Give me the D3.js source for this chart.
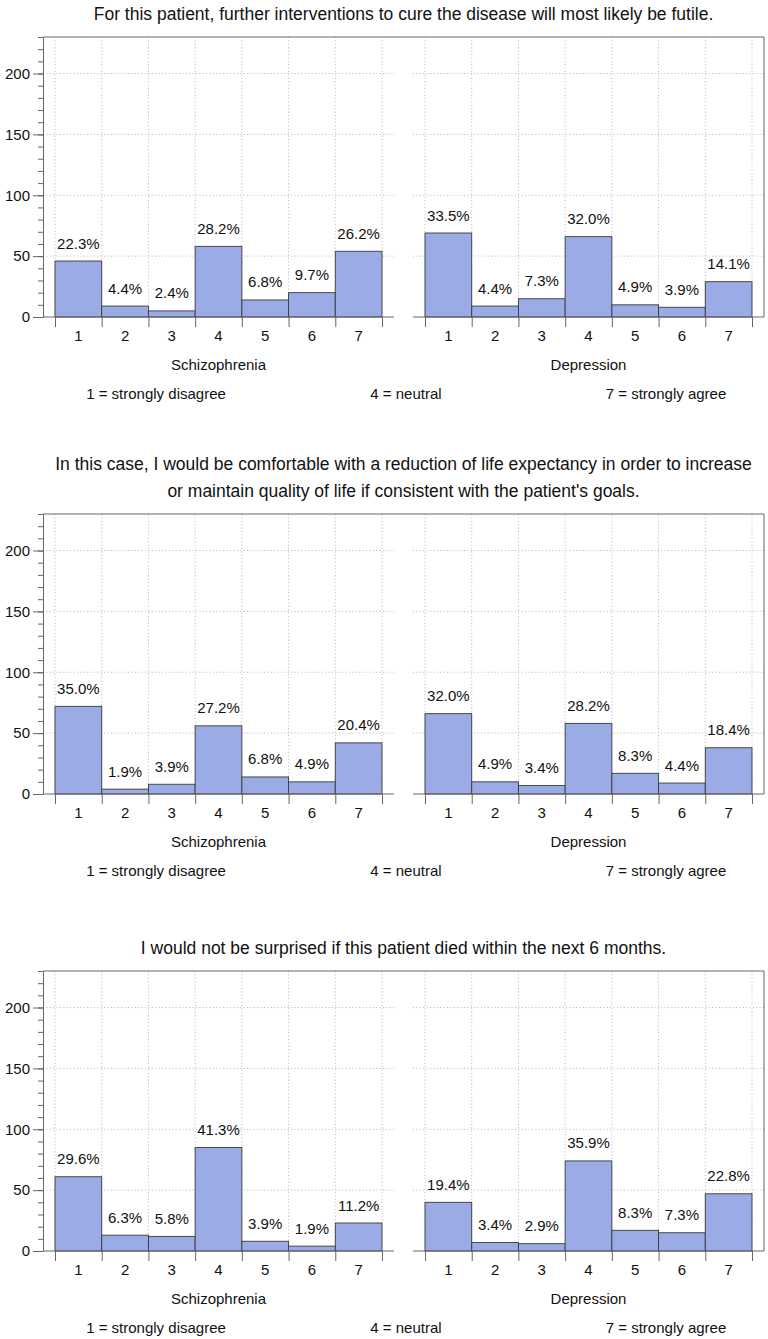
<!DOCTYPE html>
<html>
<head>
<meta charset="utf-8">
<script src="https://cdn.jsdelivr.net/npm/d3@7"></script>
<style>
  body { margin: 0; background: #fff; }
  svg { display: block; font-family: "Liberation Sans", Arial, Helvetica, sans-serif; }
</style>
</head>
<body>
<div id="chart"></div>
<script>
const width = 768;
const height = 1339;

// Likert scores and axis ticks
const scores = [1, 2, 3, 4, 5, 6, 7];
const yTicks = [0, 50, 100, 150, 200];
const groups = ["Schizophrenia", "Depression"];
const legendLabels = ["1 = strongly disagree", "4 = neutral", "7 = strongly agree"];

// Question texts (one entry per panel, lines split)
const questions = [
  ["For this patient, further interventions to cure the disease will most likely be futile."],
  ["In this case, I would be comfortable with a reduction of life expectancy in order to increase",
   "or maintain quality of life if consistent with the patient's goals."],
  ["I would not be surprised if this patient died within the next 6 months."]
];

// counts
const q1Schizophrenia = [46, 9, 5, 58, 14, 20, 54];
const q1Depression = [69, 9, 15, 66, 10, 8, 29];
const q2Schizophrenia = [72, 4, 8, 56, 14, 10, 42];
const q2Depression = [66, 10, 7, 58, 17, 9, 38];
const q3Schizophrenia = [61, 13, 12, 85, 8, 4, 23];
const q3Depression = [40, 7, 6, 74, 17, 15, 47];

// percentage labels above the bars
const q1SchizophreniaPct = ["22.3%", "4.4%", "2.4%", "28.2%", "6.8%", "9.7%", "26.2%"];
const q1DepressionPct = ["33.5%", "4.4%", "7.3%", "32.0%", "4.9%", "3.9%", "14.1%"];
const q2SchizophreniaPct = ["35.0%", "1.9%", "3.9%", "27.2%", "6.8%", "4.9%", "20.4%"];
const q2DepressionPct = ["32.0%", "4.9%", "3.4%", "28.2%", "8.3%", "4.4%", "18.4%"];
const q3SchizophreniaPct = ["29.6%", "6.3%", "5.8%", "41.3%", "3.9%", "1.9%", "11.2%"];
const q3DepressionPct = ["19.4%", "3.4%", "2.9%", "35.9%", "8.3%", "7.3%", "22.8%"];

const panelData = [
  [[q1Schizophrenia, q1SchizophreniaPct], [q1Depression, q1DepressionPct]],
  [[q2Schizophrenia, q2SchizophreniaPct], [q2Depression, q2DepressionPct]],
  [[q3Schizophrenia, q3SchizophreniaPct], [q3Depression, q3DepressionPct]]
];

// layout
const panelTops = [37, 514, 971];
const plotH = 280;
const left = 43;
const subW = 351;      // width of one sub-panel
const subGap = 19;     // gap between the two sub-panels
const inner = 12;      // padding between frame and first bar
const right = left + subW * 2 + subGap;

const barFill = "#9babe6";
const barStroke = "#3a3a3a";
const axisColor = "#666";
const gridColor = "#b5b5b5";

const svg = d3.select("#chart").append("svg")
    .attr("width", width)
    .attr("height", height)
    .style("font-size", "15px");

const y = d3.scaleLinear().domain([0, 230]).range([plotH, 0]);

panelData.forEach((panel, pi) => {
  const top = panelTops[pi];
  const g = svg.append("g").attr("transform", `translate(0,${top})`);

  // title lines
  const lines = questions[pi];
  g.append("g")
    .attr("text-anchor", "middle")
    .selectAll("text")
    .data(lines)
    .join("text")
      .attr("x", (left + right) / 2)
      .attr("y", (d, i) => -23 - (lines.length - 1 - i) * 27)
      .attr("dominant-baseline", "central")
      .style("font-size", "17.5px")
      .attr("fill", "#111")
      .text(d => d);

  panel.forEach(([counts, pcts], si) => {
    const x0 = left + si * (subW + subGap);
    const band = d3.scaleBand().domain(scores).range([x0 + inner, x0 + subW - inner]).padding(0);
    const edges = d3.scaleLinear().domain([0.5, 7.5]).range(band.range());

    // horizontal dotted grid
    g.append("g")
      .selectAll("line")
      .data(yTicks.filter(t => t > 0))
      .join("line")
        .attr("x1", x0).attr("x2", x0 + subW)
        .attr("y1", d => y(d)).attr("y2", d => y(d))
        .attr("stroke", gridColor)
        .attr("stroke-dasharray", "1,2.4");

    // vertical dotted grid at bar edges
    g.append("g")
      .selectAll("line")
      .data(d3.range(0.5, 8, 1))
      .join("line")
        .attr("x1", d => edges(d)).attr("x2", d => edges(d))
        .attr("y1", y(230)).attr("y2", y(0))
        .attr("stroke", gridColor)
        .attr("stroke-dasharray", "1,2.4");

    // bars
    g.append("g")
      .selectAll("rect")
      .data(scores)
      .join("rect")
        .attr("x", d => band(d))
        .attr("width", band.bandwidth())
        .attr("y", (d, i) => y(counts[i]))
        .attr("height", (d, i) => y(0) - y(counts[i]))
        .attr("fill", barFill)
        .attr("stroke", barStroke)
        .attr("stroke-width", 0.9);

    // percentage labels
    g.append("g")
      .attr("text-anchor", "middle")
      .selectAll("text")
      .data(scores)
      .join("text")
        .attr("x", d => band(d) + band.bandwidth() / 2)
        .attr("y", (d, i) => y(counts[i]) - 18)
        .attr("dominant-baseline", "central")
        .attr("fill", "#111")
        .text((d, i) => pcts[i]);

    // bottom axis line of the sub-panel
    g.append("line")
      .attr("x1", x0).attr("x2", x0 + subW)
      .attr("y1", y(0)).attr("y2", y(0))
      .attr("stroke", axisColor);

    // tick marks at bar edges
    const edgeAxis = g.append("g")
      .attr("transform", `translate(0,${y(0)})`)
      .call(d3.axisBottom(edges).tickValues(d3.range(0.5, 8, 1)).tickFormat("").tickSize(10).tickSizeOuter(0));
    edgeAxis.select(".domain").remove();
    edgeAxis.selectAll(".tick line").attr("stroke", axisColor);

    // score labels centred under bars
    const labAxis = g.append("g")
      .attr("transform", `translate(0,${y(0)})`)
      .call(d3.axisBottom(band).tickSize(0).tickPadding(13));
    labAxis.select(".domain").remove();
    labAxis.selectAll("text").style("font-size", "15px").attr("fill", "#111");

    // group name
    g.append("text")
      .attr("x", x0 + subW / 2)
      .attr("y", y(0) + 47)
      .attr("text-anchor", "middle")
      .attr("dominant-baseline", "central")
      .attr("fill", "#111")
      .text(groups[si]);
  });

  // frame: top and right border
  g.append("path")
    .attr("d", `M${left},${y(230)}H${right}V${y(0)}`)
    .attr("fill", "none")
    .attr("stroke", axisColor);

  // y axis: major ticks with labels, minor ticks every 10
  const yMinor = g.append("g")
    .attr("transform", `translate(${left},0)`)
    .call(d3.axisLeft(y).tickValues(d3.range(0, 231, 10)).tickFormat("").tickSize(5).tickSizeOuter(0));
  yMinor.selectAll(".tick line").attr("stroke", axisColor);
  yMinor.select(".domain").attr("stroke", axisColor);

  const yMajor = g.append("g")
    .attr("transform", `translate(${left},0)`)
    .call(d3.axisLeft(y).tickValues(yTicks).tickSize(10).tickPadding(3).tickSizeOuter(0));
  yMajor.select(".domain").remove();
  yMajor.selectAll(".tick line").attr("stroke", axisColor);
  yMajor.selectAll("text").style("font-size", "15px").attr("fill", "#111");

  // scale legend
  g.append("g")
    .attr("text-anchor", "middle")
    .selectAll("text")
    .data(legendLabels)
    .join("text")
      .attr("x", (d, i) => [156, 406, 666][i])
      .attr("y", y(0) + 76)
      .attr("dominant-baseline", "central")
      .attr("fill", "#111")
      .text(d => d);
});
</script>
</body>
</html>
